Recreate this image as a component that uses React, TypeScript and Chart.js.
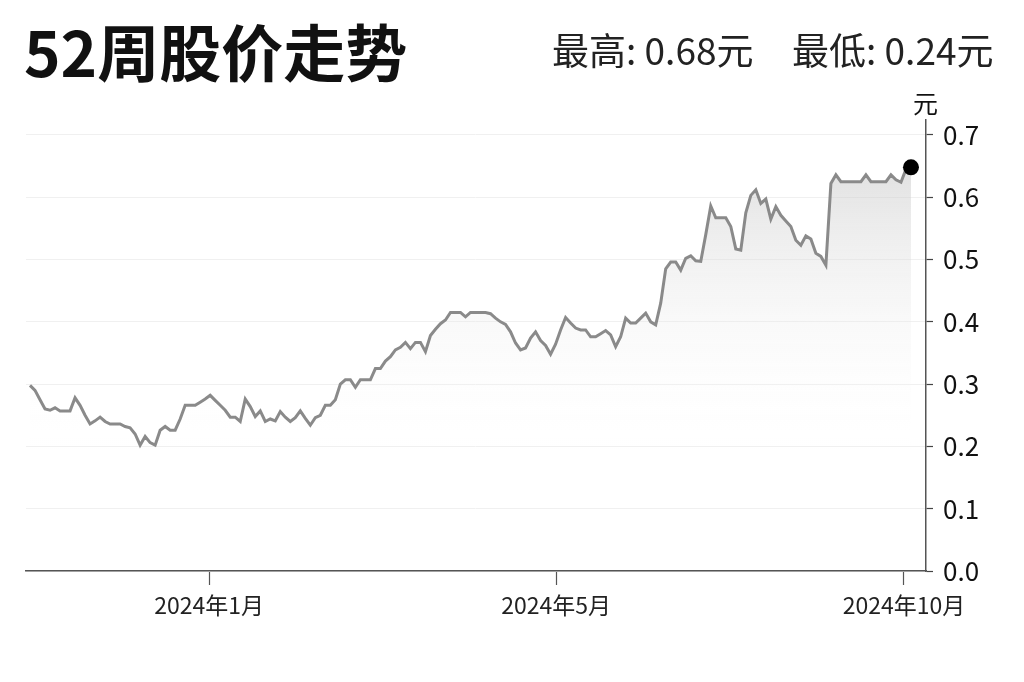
import React, { useEffect, useRef } from "react";
import { Chart, registerables } from "chart.js";

Chart.register(...registerables);

const titleText = "52周股价走势";
const highLabel = "最高: 0.68元";
const lowLabel = "最低: 0.24元";
const unitLabel = "元";

// trading-day series (元)
const prices: number[] = [
  0.298, 0.29, 0.275, 0.26, 0.258, 0.262, 0.257, 0.257, 0.257, 0.278,
  0.266, 0.25, 0.236, 0.241, 0.247, 0.24, 0.236, 0.236, 0.236, 0.232,
  0.23, 0.22, 0.202, 0.216, 0.206, 0.202, 0.226, 0.232, 0.226, 0.226,
  0.244, 0.266, 0.266, 0.266, 0.271, 0.276, 0.282, 0.274, 0.266, 0.258,
  0.247, 0.247, 0.24, 0.276, 0.264, 0.248, 0.257, 0.24, 0.244, 0.241,
  0.256, 0.247, 0.24, 0.246, 0.257, 0.245, 0.234, 0.246, 0.25, 0.266,
  0.266, 0.275, 0.3, 0.307, 0.307, 0.295, 0.307, 0.307, 0.307, 0.325,
  0.325, 0.337, 0.344, 0.355, 0.359, 0.367, 0.357, 0.367, 0.367, 0.352,
  0.378, 0.388, 0.397, 0.403, 0.415, 0.415, 0.415, 0.408, 0.415, 0.415,
  0.415, 0.415, 0.413, 0.406, 0.4, 0.396, 0.384, 0.366, 0.355, 0.358,
  0.374, 0.384, 0.37, 0.362, 0.348, 0.364, 0.387, 0.407, 0.398, 0.39,
  0.387, 0.387, 0.376, 0.376, 0.381, 0.386, 0.379, 0.36, 0.376, 0.406,
  0.398, 0.398, 0.406, 0.414, 0.4, 0.395, 0.43, 0.485, 0.496, 0.496,
  0.483, 0.502, 0.506, 0.498, 0.497, 0.54, 0.586, 0.567, 0.567, 0.567,
  0.553, 0.517, 0.515, 0.575, 0.603, 0.612, 0.59, 0.597, 0.565, 0.585,
  0.571, 0.562, 0.553, 0.531, 0.523, 0.538, 0.533, 0.51, 0.505, 0.491,
  0.622, 0.636, 0.625, 0.625, 0.625, 0.625, 0.625, 0.636, 0.625, 0.625,
  0.625, 0.625, 0.636, 0.628, 0.624, 0.645, 0.648,
];

const dayIndex: number[] = prices.map((_, i) => i);

const monthTickIndex: number[] = [35.8, 105.1, 174.6];
const monthTickLabels: string[] = ["2024年1月", "2024年5月", "2024年10月"];

const yTickValues: number[] = [0, 0.1, 0.2, 0.3, 0.4, 0.5, 0.6, 0.7];

const FONT = "'Noto Sans CJK SC', 'Noto Sans', sans-serif";

export default function App() {
  const canvasRef = useRef<HTMLCanvasElement | null>(null);

  useEffect(() => {
    const canvas = canvasRef.current;
    if (!canvas) return;
    const last = prices.length - 1;
    const chart = new Chart(canvas, {
      type: "line",
      data: {
        labels: dayIndex,
        datasets: [
          {
            data: prices,
            borderColor: "#8a8a8a",
            borderWidth: 3,
            tension: 0,
            fill: "origin",
            backgroundColor: (ctx: any) => {
              const ch = ctx.chart;
              const area = ch.chartArea;
              if (!area) return "rgba(0,0,0,0)";
              const g = ch.ctx.createLinearGradient(0, area.top, 0, area.top + 330);
              g.addColorStop(0, "rgba(190,190,190,0.62)");
              g.addColorStop(1, "rgba(255,255,255,0)");
              return g;
            },
            pointRadius: (ctx: any) => (ctx.dataIndex === last ? 8 : 0),
            pointHoverRadius: 0,
            pointBackgroundColor: "#000",
            pointBorderWidth: 0,
          },
        ],
      },
      options: {
        responsive: false,
        animation: false,
        devicePixelRatio: 1,
        layout: { padding: { left: 26, top: 120, right: 0, bottom: 0 } },
        plugins: {
          legend: { display: false },
          tooltip: { enabled: false },
          title: { display: false },
        },
        scales: {
          x: {
            type: "linear",
            min: -0.8,
            max: 179,
            afterBuildTicks: (scale: any) => {
              scale.ticks = monthTickIndex.map((v) => ({ value: v }));
            },
            afterFit: (scale: any) => {
              scale.height = 111;
            },
            ticks: {
              autoSkip: false,
              maxRotation: 0,
              padding: 6,
              color: "#222",
              font: { family: FONT, size: 23 },
              callback: (_v: any, i: number) => monthTickLabels[i],
            },
            grid: {
              display: true,
              drawOnChartArea: false,
              drawTicks: true,
              tickLength: 14,
              tickColor: "#555",
              tickWidth: 1.2,
            },
            border: { display: true, color: "#555", width: 1.5 },
          },
          y: {
            position: "right",
            min: 0,
            max: 0.724,
            afterBuildTicks: (scale: any) => {
              scale.ticks = yTickValues.map((v) => ({ value: v }));
            },
            afterFit: (scale: any) => {
              scale.width = 98;
            },
            ticks: {
              padding: 10,
              color: "#111",
              font: { family: FONT, size: 26 },
              callback: (v: any) => Number(v).toFixed(1),
            },
            grid: {
              display: true,
              color: "#f0f0f0",
              lineWidth: 1,
              drawTicks: true,
              tickLength: 7,
              tickColor: "#444",
              tickWidth: 1.2,
            },
            border: { display: true, color: "#555", width: 1.5 },
          },
        },
      },
    } as any);
    return () => {
      chart.destroy();
    };
  }, []);

  return (
    <div
      style={{
        position: "fixed",
        left: 0,
        top: 0,
        width: 1024,
        height: 682,
        background: "#fff",
        overflow: "hidden",
        fontFamily: FONT,
      }}
    >
      <canvas
        ref={canvasRef}
        width={1024}
        height={682}
        style={{ position: "absolute", left: 0, top: 0, width: 1024, height: 682 }}
      />
      <div
        style={{
          position: "absolute",
          left: 24,
          top: 19,
          fontSize: 62,
          lineHeight: "62px",
          fontWeight: 700,
          color: "#111",
          whiteSpace: "nowrap",
        }}
      >
        {titleText}
      </div>
      <div
        style={{
          position: "absolute",
          left: 552,
          top: 31,
          fontSize: 37,
          lineHeight: "37px",
          color: "#222",
          whiteSpace: "nowrap",
        }}
      >
        {highLabel}
      </div>
      <div
        style={{
          position: "absolute",
          left: 792,
          top: 31,
          fontSize: 37,
          lineHeight: "37px",
          color: "#222",
          whiteSpace: "nowrap",
        }}
      >
        {lowLabel}
      </div>
      <div
        style={{
          position: "absolute",
          left: 913,
          top: 90,
          fontSize: 25,
          lineHeight: "25px",
          color: "#111",
          whiteSpace: "nowrap",
        }}
      >
        {unitLabel}
      </div>
    </div>
  );
}
